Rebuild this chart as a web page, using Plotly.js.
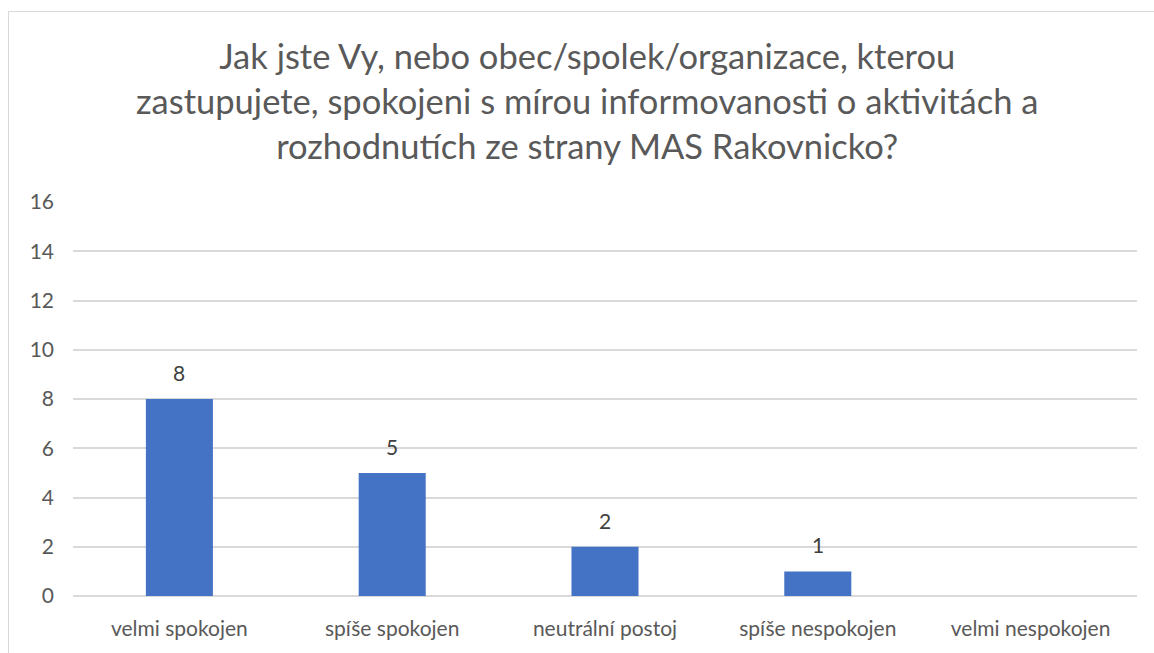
<!DOCTYPE html>
<html><head><meta charset="utf-8">
<script src="https://cdn.plot.ly/plotly-3.0.1.min.js"></script>
<style>
html,body{margin:0;padding:0;background:#fff;}
#frame{position:absolute;left:8px;top:11px;width:1160px;height:660px;border-left:1.5px solid #d9d9d9;border-top:1.5px solid #d9d9d9;}
#chart{position:absolute;left:0;top:0;width:1154px;height:653px;}
</style></head>
<body>
<div id="frame"></div>
<div id="chart"></div>
<script>
const categories = ["velmi spokojen", "spíše spokojen", "neutrální postoj", "spíše nespokojen", "velmi nespokojen"];
const values = [8, 5, 2, 1, 0];
const yTicks = [0, 2, 4, 6, 8, 10, 12, 14, 16];
const titleText = "Jak jste Vy, nebo obec/spolek/organizace, kterou<br>zastupujete, spokojeni s mírou informovanosti o aktivitách a<br>rozhodnutích ze strany MAS Rakovnicko?";

const fontFam = "Lato, 'Open Sans', sans-serif";
const annotations = categories.map((c, i) => values[i] > 0 ? {
  x: c, y: values[i], xref: 'x', yref: 'y', text: String(values[i]),
  showarrow: false, yanchor: 'bottom', yshift: 12,
  font: {family: fontFam, size: 21, color: '#404040'}
} : null).filter(a => a);

annotations.push({
  xref: 'paper', yref: 'paper', x: 0.483, y: 1, yanchor: 'bottom', yshift: 34,
  showarrow: false, text: titleText, align: 'center',
  font: {family: fontFam, size: 34.5, color: '#595959'}
});

Plotly.newPlot('chart', [{
  type: 'bar', x: categories, y: values,
  marker: {color: '#4472C4'},
  hoverinfo: 'x+y'
}], {
  width: 1154, height: 653,
  paper_bgcolor: 'rgba(0,0,0,0)', plot_bgcolor: 'rgba(0,0,0,0)',
  margin: {l: 73, r: 17, t: 202, b: 57},
  bargap: 0.685,
  font: {family: fontFam, color: '#595959'},
  xaxis: {type: 'category', tickfont: {size: 21, color: '#595959'}, showgrid: false,
    showline: false, ticks: '', ticklabelstandoff: 18},
  yaxis: {range: [0, 16], tickvals: yTicks, tickfont: {size: 21, color: '#595959'},
    showgrid: true, gridcolor: '#d9d9d9', gridwidth: 1.5, zeroline: true, zerolinecolor: '#d9d9d9', zerolinewidth: 1.5,
    ticks: '', ticklabelstandoff: 18},
  annotations: annotations,
  showlegend: false
}, {displayModeBar: false});
</script>
</body></html>
